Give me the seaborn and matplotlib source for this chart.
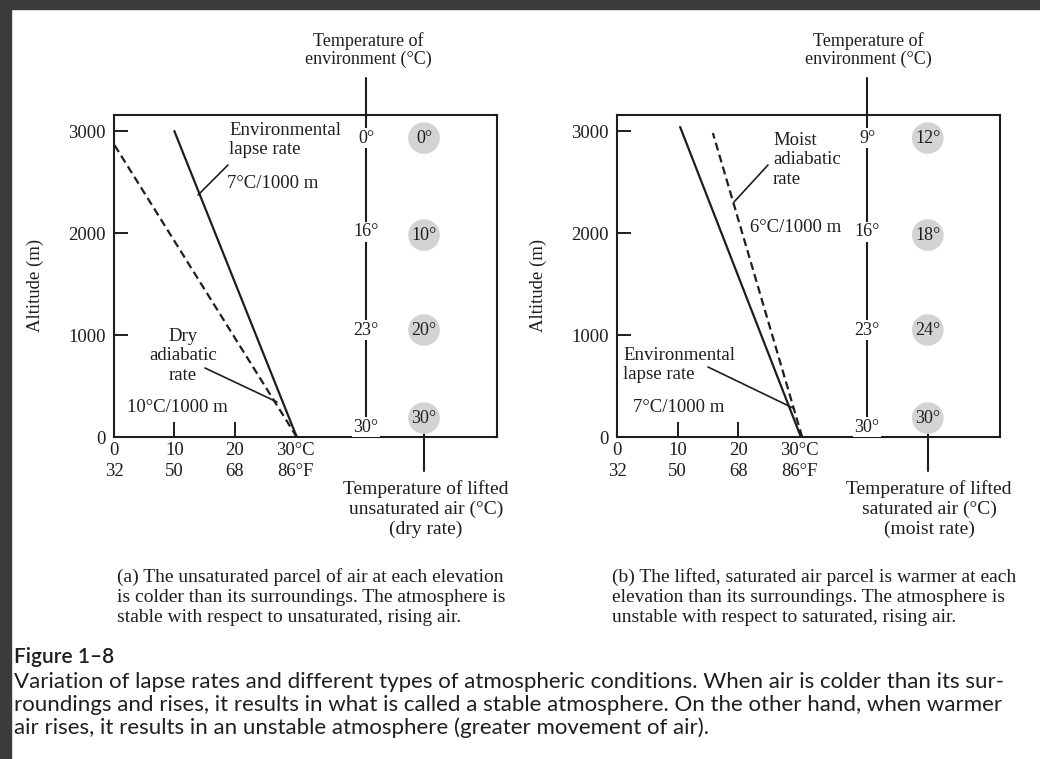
import matplotlib
matplotlib.use("Agg")
import matplotlib.pyplot as plt
import seaborn as sns
import pandas as pd
from matplotlib.patches import Rectangle
from matplotlib.lines import Line2D

sns.set_theme(style="white")
plt.rcParams['font.family'] = ['Liberation Serif', 'DejaVu Serif']

# ---------------- data ----------------
altitudes = [0, 1000, 2000, 3000]
x_ticks_c = [0, 10, 20, 30]
x_ticks_f = [32, 50, 68, 86]

a_env_temps = [30, 23, 16, 0]        # environment temperature labels (panel a)
a_parcel_temps = [30, 20, 10, 0]     # lifted unsaturated parcel (dry rate)
b_env_temps = [30, 23, 16, 9]        # environment temperature labels (panel b)
b_parcel_temps = [30, 24, 18, 12]    # lifted saturated parcel (moist rate)

a_env_line_temp = [30.3, 10.0]
a_env_line_alt = [0, 3000]
a_dry_line_temp = [30.3, 0.0]
a_dry_line_alt = [0, 2870]
b_env_line_temp = [30.3, 10.4]
b_env_line_alt = [0, 3040]
b_moist_line_temp = [30.5, 15.8]
b_moist_line_alt = [0, 2980]

# ---------------- layout helpers ----------------
W, H = 1040, 759
INK = '#1e1e1e'
fig = plt.figure(figsize=(W / 100, H / 100), dpi=100, facecolor='white')


def fx(x):
    return x / W


def fy(y):
    return 1 - y / H


# dark page border
fig.patches.append(Rectangle((0, fy(9)), 1, 9 / H, transform=fig.transFigure,
                             color='#3b3b3b', zorder=0))
fig.patches.append(Rectangle((0, 0), 11 / W, 1, transform=fig.transFigure,
                             color='#3b3b3b', zorder=0))

FS = 13.5
# label altitudes (positions in the drawing)
env_label_alt = [98, 1049, 2010, 2931]
circle_alt = [186, 1049, 1980, 2931]


def panel(left, right, xmax, env_x, parcel_x, env_t, parcel_t,
          solid_t, solid_a, dash_t, dash_a):
    top, bottom = 115, 437
    ax = fig.add_axes([fx(left), fy(bottom), fx(right - left), (bottom - top) / H])
    ax.set_facecolor('white')
    ax.set_xlim(0, xmax)
    ax.set_ylim(0, 3157)
    for s in ax.spines.values():
        s.set_visible(True)
        s.set_color(INK)
        s.set_linewidth(1.5)

    # lines
    sns.lineplot(x=solid_t, y=solid_a, ax=ax, color=INK, linewidth=1.6,
                 sort=False, estimator=None)
    sns.lineplot(x=dash_t, y=dash_a, ax=ax, color=INK, linewidth=1.6,
                 sort=False, estimator=None)
    ax.lines[-1].set_dashes([3.6, 2.0])

    # environment vertical line with labels
    ax.plot([env_x, env_x], [3520, 180], color=INK, lw=1.5, clip_on=False, zorder=2)
    for t, a in zip(env_t, env_label_alt):
        ax.text(env_x, a, f"{t}°", ha='center', va='center', fontsize=FS - 0.5,
                color=INK, zorder=3,
                bbox=dict(facecolor='white', edgecolor='none', pad=0.8))

    # lifted parcel circles
    df = pd.DataFrame({'temp': [parcel_x] * 4, 'alt': circle_alt})
    sns.scatterplot(data=df, x='temp', y='alt', ax=ax, s=520, color='#d3d3d3',
                    edgecolor='none', zorder=3, clip_on=False, legend=False)
    for t, a in zip(parcel_t, circle_alt):
        ax.text(parcel_x, a, f"{t}°", ha='center', va='center', fontsize=FS - 0.5,
                color=INK, zorder=4)
    ax.plot([parcel_x, parcel_x], [49, -333], color=INK, lw=1.5,
            clip_on=False, zorder=2)

    # ticks
    ax.set_yticks(altitudes)
    ax.set_yticklabels([str(v) for v in altitudes], fontsize=FS, color=INK)
    ax.set_xticks(x_ticks_c)
    labels = [f"{c}\n{f}" for c, f in zip(x_ticks_c, x_ticks_f)]
    labels[-1] = f"{x_ticks_c[-1]}°C\n{x_ticks_f[-1]}°F"
    ax.set_xticklabels(labels, fontsize=FS, color=INK, linespacing=1.3)
    ax.tick_params(axis='y', direction='in', length=10, width=1.4, pad=6,
                   left=True, color=INK)
    ax.tick_params(axis='x', direction='in', length=10.5, width=1.4, pad=3.5,
                   bottom=True, color=INK)
    xt = ax.xaxis.get_major_ticks()
    xt[0].tick1line.set_visible(False)
    xt[-1].tick1line.set_visible(False)
    yt = ax.yaxis.get_major_ticks()
    yt[0].tick1line.set_visible(False)
    ax.set_xlabel('')
    ax.set_ylabel('Altitude (m)', fontsize=FS, color=INK)
    ax.yaxis.set_label_coords(-0.183, 0.472)
    ax.grid(False)
    return ax


axa = panel(114, 497, 63.5, 41.8, 51.4, a_env_temps, a_parcel_temps,
            a_env_line_temp, a_env_line_alt, a_dry_line_temp, a_dry_line_alt)
axb = panel(617, 1000, 63.1, 41.2, 51.2, b_env_temps, b_parcel_temps,
            b_env_line_temp, b_env_line_alt, b_moist_line_temp, b_moist_line_alt)


def ftext(x, y, s, ha='left', va='center', fs=FS, ls=1.15, **kw):
    fig.text(fx(x), fy(y), s, ha=ha, va=va, fontsize=fs, color=INK,
             linespacing=ls, **kw)


def fline(x0, y0, x1, y1):
    fig.add_artist(Line2D([fx(x0), fx(x1)], [fy(y0), fy(y1)], color=INK, lw=1.2))


# top labels
ftext(368, 50, "Temperature of\nenvironment (°C)", ha='center', fs=13, ls=1.0)
ftext(868, 50, "Temperature of\nenvironment (°C)", ha='center', fs=13, ls=1.0)

# bottom labels
ftext(426, 509, "Temperature of lifted\nunsaturated air (°C)\n(dry rate)", ha='center', fs=14, ls=1.18)
ftext(929, 509, "Temperature of lifted\nsaturated air (°C)\n(moist rate)", ha='center', fs=14, ls=1.18)

# panel a annotations
ftext(229, 140, "Environmental\nlapse rate")
ftext(227, 183, "7°C/1000 m")
fline(228, 165, 198, 195)
ftext(183, 356, "Dry\nadiabatic\nrate", ha='center', ls=1.22)
fline(205, 368, 277, 402)
ftext(127, 408, "10°C/1000 m")

# panel b annotations
ftext(773, 160, "Moist\nadiabatic\nrate", ls=1.18)
fline(768, 165, 734, 202)
ftext(750, 227, "6°C/1000 m")
ftext(623, 365, "Environmental\nlapse rate")
fline(708, 367, 793, 408)
ftext(633, 408, "7°C/1000 m")

# panel captions
ftext(117, 597, "(a) The unsaturated parcel of air at each elevation\n"
                "is colder than its surroundings. The atmosphere is\n"
                "stable with respect to unsaturated, rising air.", fs=14, ls=1.24)
ftext(612, 597, "(b) The lifted, saturated air parcel is warmer at each\n"
                "elevation than its surroundings. The atmosphere is\n"
                "unstable with respect to saturated, rising air.", fs=14, ls=1.24)

# figure caption
fig.text(fx(14), fy(657), "Figure 1–8", ha='left', va='center', fontsize=15,
         color=INK, family=['Lato', 'DejaVu Sans'], weight='semibold')
fig.text(fx(14), fy(705),
         "Variation of lapse rates and different types of atmospheric conditions. When air is colder than its sur-\n"
         "roundings and rises, it results in what is called a stable atmosphere. On the other hand, when warmer\n"
         "air rises, it results in an unstable atmosphere (greater movement of air).",
         ha='left', va='center', fontsize=16, color=INK,
         family=['Lato', 'DejaVu Sans'], linespacing=1.17)

fig.savefig('out.png', dpi=100, facecolor='white')
